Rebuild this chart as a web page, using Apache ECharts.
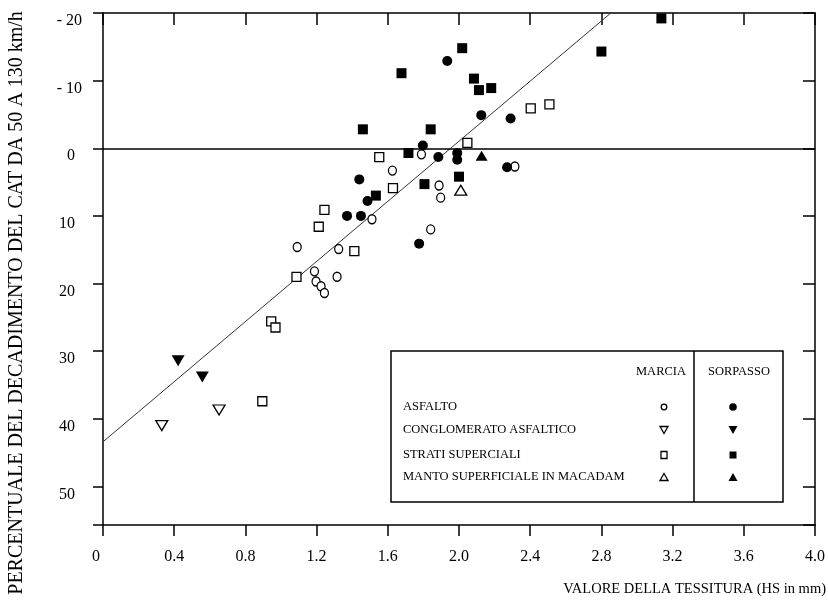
<!DOCTYPE html>
<html><head><meta charset="utf-8">
<script src="https://cdn.jsdelivr.net/npm/echarts@6/dist/echarts.min.js"></script>
<style>html,body{margin:0;padding:0;background:#fff}#c{width:828px;height:607px}</style>
</head><body><div id="c"></div>
<script>
// ---- data (x = HS in mm, y = percent decay; axis is inverted) ----
const asfaltoMarcia = [[1.789,0.9],[2.314,2.7],[1.626,3.3],[1.888,5.5],[1.897,7.3],[1.511,10.5],[1.841,12.0],[1.091,14.6],[1.324,14.9],[1.188,18.2],[1.315,19.0],[1.197,19.7],[1.225,20.4],[1.244,21.4]];
const asfaltoSorpasso = [[1.934,-12.9],[2.125,-4.9],[2.29,-4.4],[1.797,-0.4],[1.884,1.3],[1.99,0.7],[1.99,1.7],[2.27,2.8],[1.44,4.6],[1.486,7.8],[1.371,10.0],[1.449,10.0],[1.776,14.1]];
const stratiMarcia = [[2.403,-5.9],[2.508,-6.5],[2.047,-0.8],[1.552,1.3],[1.629,5.9],[1.244,9.1],[1.212,11.6],[1.412,15.2],[1.087,19.0],[0.945,25.6],[0.969,26.5],[0.895,37.4]];
const stratiSorpasso = [[3.137,-19.2],[2.80,-14.3],[2.018,-14.8],[1.677,-11.1],[2.084,-10.3],[2.112,-8.6],[2.181,-8.9],[1.46,-2.8],[1.841,-2.8],[1.716,0.7],[2.0,4.2],[1.806,5.3],[1.533,7.0]];
const conglomeratoMarcia = [[0.652,38.7],[0.33,41.0]];
const conglomeratoSorpasso = [[0.422,31.4],[0.558,33.8]];
const macadamMarcia = [[2.01,6.2]];
const macadamSorpasso = [[2.127,1.1]];
const trendX = [0, 2.853];
const trendY = [43.4, -20];
const xMin = 0, xMax = 4.0, xStep = 0.4;
const yMin = -20, yMax = 55.7, yStep = 10;
const xTitle = 'VALORE DELLA TESSITURA (HS in mm)';
const yTitle = 'PERCENTUALE DEL DECADIMENTO DEL CAT DA 50 A 130 km/h';
const legendRows = ['ASFALTO','CONGLOMERATO ASFALTICO','STRATI SUPERCIALI','MANTO SUPERFICIALE IN MACADAM'];
const legendCols = ['MARCIA','SORPASSO'];

const FONT = '"Liberation Serif","Times New Roman",serif';
const chart = echarts.init(document.getElementById('c'), null, {renderer:'canvas'});
const axisLine = {show:true, onZero:false, lineStyle:{color:'#000', width:1.5}};
const open = {color:'#fff', borderColor:'#000', borderWidth:1.3, opacity:1};
const filled = {color:'#000', opacity:1};
function scat(name, data, symbol, size, style, rot) {
  return {name, type:'scatter', data, symbol, symbolSize:size, symbolRotate:rot||0, itemStyle:style, silent:true, z:3};
}
const trendData = trendX.map((x,i)=>[x, trendY[i]]);

// legend graphic
const L = {x:391, y:351, w:392, h:151, div:694};
const rowY = [407, 430, 455, 477];
const mX = 664, sX = 733;
const g = [
  {type:'rect', shape:{x:L.x, y:L.y, width:L.w, height:L.h}, style:{fill:'#fff', stroke:'#000', lineWidth:1.5}, z:10},
  {type:'line', shape:{x1:L.div, y1:L.y, x2:L.div, y2:L.y+L.h}, style:{stroke:'#000', lineWidth:1.5}, z:11},
  {type:'text', x:686, y:372, style:{text:legendCols[0], font:'12.5px '+FONT, fill:'#000', align:'right', verticalAlign:'middle'}, z:11},
  {type:'text', x:739, y:372, style:{text:legendCols[1], font:'12.5px '+FONT, fill:'#000', align:'center', verticalAlign:'middle'}, z:11},
];
legendRows.forEach((t,i)=>{
  g.push({type:'text', x:403, y:rowY[i], style:{text:t, font:'12.5px '+FONT, fill:'#000', align:'left', verticalAlign:'middle'}, z:11});
});
const so = {fill:'#fff', stroke:'#000', lineWidth:1.3};
const sf = {fill:'#000'};
function tri(cx, cy, w, h, down, st) {
  const pts = down ? [[cx-w/2, cy-h/2],[cx+w/2, cy-h/2],[cx, cy+h/2]] : [[cx-w/2, cy+h/2],[cx+w/2, cy+h/2],[cx, cy-h/2]];
  return {type:'polygon', shape:{points:pts}, style:st, z:11};
}
g.push({type:'circle', shape:{cx:mX, cy:rowY[0], r:2.8}, style:so, z:11});
g.push({type:'circle', shape:{cx:sX, cy:rowY[0], r:3.8}, style:sf, z:11});
g.push(tri(mX, rowY[1], 8, 7, true, so));
g.push(tri(sX, rowY[1], 9, 8, true, sf));
g.push({type:'rect', shape:{x:mX-3, y:rowY[2]-3.5, width:6, height:7}, style:so, z:11});
g.push({type:'rect', shape:{x:sX-3.5, y:rowY[2]-3.5, width:7, height:7}, style:sf, z:11});
g.push(tri(mX, rowY[3], 8, 7, false, so));
g.push(tri(sX, rowY[3], 9, 8, false, sf));
// axis titles
g.push({type:'text', right:2, top:582, style:{text:xTitle, font:'14.5px '+FONT, fill:'#000'}, z:11});
g.push({type:'text', x:17, y:303, rotation:Math.PI/2, style:{text:yTitle, font:'20px '+FONT, fill:'#000', align:'center', verticalAlign:'middle'}, z:11});

const option = {
  animation:false,
  backgroundColor:'#fff',
  grid:{left:103, right:10, top:13, bottom:82},
  xAxis:[
    {type:'value', position:'bottom', min:xMin, max:xMax, interval:xStep, splitLine:{show:false}, axisLine,
     axisTick:{show:true, inside:false, length:11, lineStyle:{color:'#000', width:1.5}},
     axisLabel:{margin:24, color:'#000', fontFamily:FONT, fontSize:16,
       formatter:v=> Math.abs(v)<1e-9 ? '{z|0}' : v.toFixed(1),
       rich:{z:{padding:[0,14,0,0], fontFamily:FONT, fontSize:16, color:'#000'}}}},
    {type:'value', position:'top', min:xMin, max:xMax, interval:xStep, splitLine:{show:false}, axisLine,
     axisTick:{show:true, inside:true, length:12, lineStyle:{color:'#000', width:1.5}}, axisLabel:{show:false}}
  ],
  yAxis:[
    {type:'value', position:'left', inverse:true, min:yMin, max:yMax, interval:yStep, splitLine:{show:false}, axisLine,
     axisTick:{show:true, inside:false, length:10, lineStyle:{color:'#000', width:1.5}},
     axisLabel:{margin:21, color:'#000', fontFamily:FONT, fontSize:16,
       formatter:v=>{ if (Math.abs(v-yMax)<1e-6) return ''; if (v<0) return '{n|- '+(-v)+'}'; return '{p|'+v+'}'; },
       rich:{n:{padding:[16,0,0,0], fontFamily:FONT, fontSize:16, color:'#000'}, p:{padding:[16,7,0,0], fontFamily:FONT, fontSize:16, color:'#000'}}}},
    {type:'value', position:'right', inverse:true, min:yMin, max:yMax, interval:yStep, splitLine:{show:false}, axisLine,
     axisTick:{show:true, inside:true, length:12, lineStyle:{color:'#000', width:1.5}}, axisLabel:{show:false}}
  ],
  series:[
    {name:'trend', type:'line', data:trendData, symbol:'none', silent:true, z:2,
     lineStyle:{color:'#333', width:1},
     markLine:{silent:true, symbol:['none','none'], label:{show:false}, lineStyle:{color:'#000', width:1.5, type:'solid'}, data:[{yAxis:0}]}},
    scat('asfaltoMarcia', asfaltoMarcia, 'circle', [8,9], open),
    scat('stratiMarcia', stratiMarcia, 'rect', 9, open),
    scat('conglomeratoMarcia', conglomeratoMarcia, 'triangle', [12,10], open, 180),
    scat('macadamMarcia', macadamMarcia, 'triangle', [12,10], open),
    scat('asfaltoSorpasso', asfaltoSorpasso, 'circle', 10, filled),
    scat('stratiSorpasso', stratiSorpasso, 'rect', 10, filled),
    scat('conglomeratoSorpasso', conglomeratoSorpasso, 'triangle', [13,11], filled, 180),
    scat('macadamSorpasso', macadamSorpasso, 'triangle', [12,10], filled)
  ],
  graphic:g
};
chart.setOption(option);
</script></body></html>
